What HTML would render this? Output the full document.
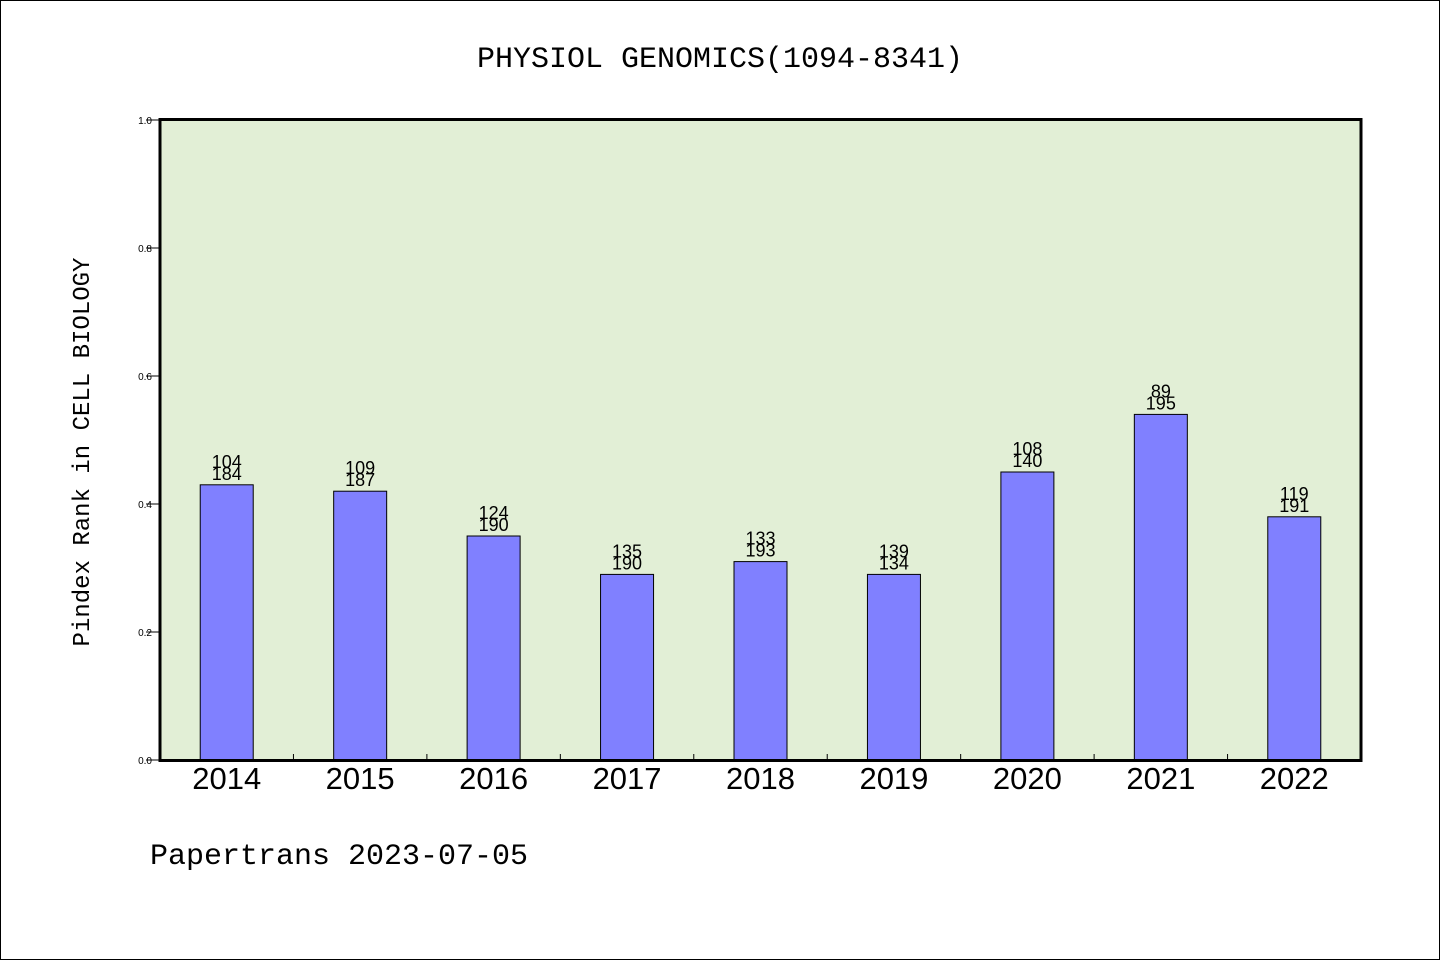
<!DOCTYPE html>
<html><head><meta charset="utf-8"><style>
html,body{margin:0;padding:0;background:#fff}
svg{display:block}
text{font-family:"Liberation Sans","DejaVu Sans",sans-serif;fill:#000}
</style></head><body>
<svg id="chart" width="1440" height="960" xmlns="http://www.w3.org/2000/svg">
<rect x="0.5" y="0.5" width="1439" height="959" fill="#fff" stroke="#000" stroke-width="1"/>
<text x="720" y="67" text-anchor="middle" font-size="30" style="font-family:'Liberation Mono',monospace">PHYSIOL GENOMICS(1094-8341)</text>
<rect x="160" y="119" width="1201" height="641" fill="#e2efd6"/>
<g id="bars"></g>
<rect x="160" y="119.5" width="1201" height="641" fill="none" stroke="#000" stroke-width="3"/>
<g id="axes"></g>
<text transform="translate(89,452) rotate(-90)" text-anchor="middle" font-size="24" style="font-family:'Liberation Mono',monospace">Pindex Rank in CELL BIOLOGY</text>
<text x="150" y="864" font-size="30" style="font-family:'Liberation Mono',monospace">Papertrans 2023-07-05</text>
</svg>
<script>
const categories=["2014","2015","2016","2017","2018","2019","2020","2021","2022"];
const values=[0.43,0.42,0.35,0.29,0.31,0.29,0.45,0.54,0.38];
const ranks=["104","109","124","135","133","139","108","89","119"];
const totals=["184","187","190","190","193","134","140","195","191"];
const yTicks=[0,0.2,0.4,0.6,0.8,1.0];
const NS="http://www.w3.org/2000/svg";
const X0=160,X1=1361,Y0=760,Y1=120;
const step=(X1-X0)/categories.length;
const x=i=>X0+step*(i+0.5);
const y=v=>Y0-(v/1.0)*(Y0-Y1);
function mk(t,a){const e=document.createElementNS(NS,t);for(const k in a)e.setAttribute(k,a[k]);return e;}
const bars=document.getElementById('bars'),axes=document.getElementById('axes');
const bw=53;
categories.forEach((c,i)=>{
  const r=mk('rect',{x:x(i)-bw/2,y:y(values[i]),width:bw,height:Y0-y(values[i]),fill:'#8080ff',stroke:'#000','stroke-width':1});
  
  
  bars.appendChild(r);
  const t1=mk('text',{x:x(i),y:y(values[i])-17,'text-anchor':'middle','font-size':18});
  t1.textContent=ranks[i];
  
  
  bars.appendChild(t1);
  const t2=mk('text',{x:x(i),y:y(values[i])-5,'text-anchor':'middle','font-size':18});
  t2.textContent=totals[i];
  
  
  bars.appendChild(t2);
  const xl=mk('text',{x:x(i),y:789,'text-anchor':'middle','font-size':31});
  xl.textContent=c;
  
  
  axes.appendChild(xl);
  if(i>0){
    const tk=mk('line',{x1:X0+step*i,x2:X0+step*i,y1:Y0,y2:Y0-6,stroke:'#000','stroke-width':1});
    
    
    axes.appendChild(tk);
  }
});
yTicks.forEach(v=>{
  const tk=mk('line',{x1:X0-14,x2:X0,y1:y(v),y2:y(v),stroke:'#000','stroke-width':1});
  
  
  axes.appendChild(tk);
  const t=mk('text',{x:X0-8,y:y(v)+4,'text-anchor':'end','font-size':10});
  t.textContent=v.toFixed(1);
  
  
  axes.appendChild(t);
});
</script>
</body></html>
